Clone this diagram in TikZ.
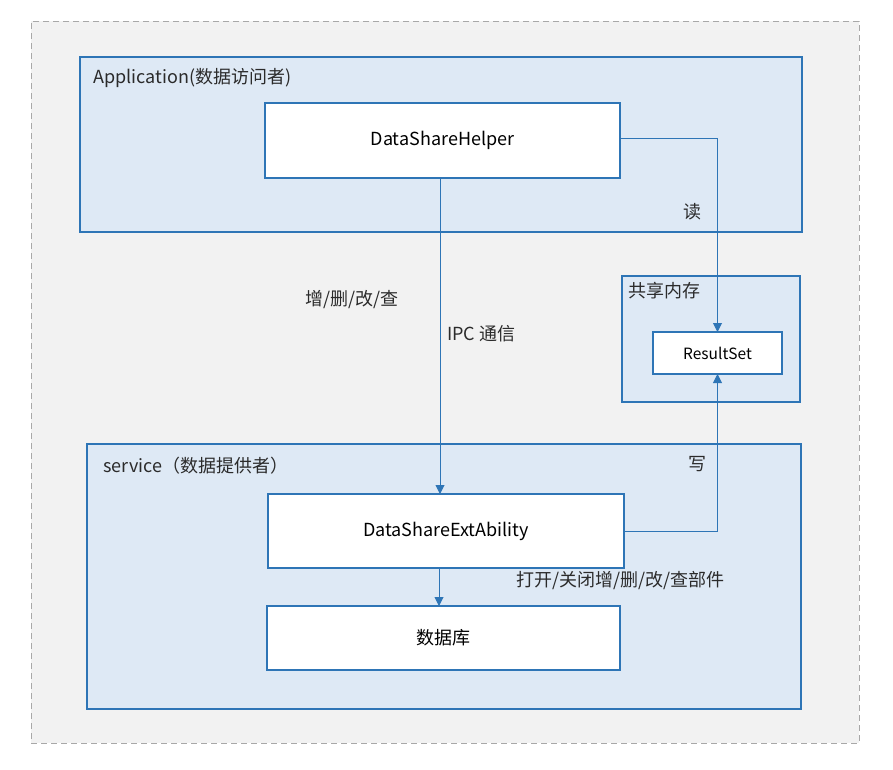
\documentclass[tikz,border=0pt]{standalone}
\usepackage{fontspec}
\setmainfont{Noto Sans CJK SC}
\usetikzlibrary{arrows.meta}
\definecolor{bordblue}{HTML}{2E75B6}
\definecolor{fillblue}{HTML}{DEE9F5}
\definecolor{outerfill}{HTML}{F2F2F2}
\definecolor{outerline}{HTML}{A8A8A8}
\definecolor{txt}{HTML}{2B2B2B}
\begin{document}
\begin{tikzpicture}[x=1pt,y=-1pt,
  font=\fontsize{18}{21}\selectfont,
  every node/.style={text=txt},
  group/.style={draw=bordblue, line width=1.6pt, fill=fillblue, inner sep=0pt, outer sep=0pt},
  block/.style={draw=bordblue, line width=1.6pt, fill=white, inner sep=0pt, outer sep=0pt, text=black},
  lbl/.style={inner sep=0pt},
  conn/.style={draw=bordblue, line width=0.9pt, -{Triangle[length=9pt,width=9pt]}}
]
\useasboundingbox (0,0) rectangle (893,769);
\node[draw=outerline, dash pattern=on 6pt off 4pt, line width=1pt, fill=outerfill,
  minimum width=828, minimum height=722, inner sep=0pt] (outer) at (445,382) {};

\node[group, minimum width=722, minimum height=175] (app) at (441,144.5) {};
\node[lbl, anchor=west] (applbl) at (93,78) {Application(数据访问者)};
\node[block, minimum width=355, minimum height=75] (helper) at (442.5,140.5) {DataShareHelper};

\node[group, minimum width=178, minimum height=126] (shm) at (711,339) {};
\node[lbl, anchor=west] (shmlbl) at (628,291) {共享内存};
\node[block, minimum width=129, minimum height=42, font=\fontsize{15.5}{18}\selectfont] (rs) at (717.5,353) {ResultSet};

\node[group, minimum width=714, minimum height=265] (svc) at (444,576.5) {};
\node[lbl, anchor=west] (svclbl) at (103,466) {service（数据提供者）};
\node[block, minimum width=356, minimum height=74] (ext) at (446,531) {DataShareExtAbility};
\node[block, minimum width=353, minimum height=64] (db) at (443.5,638) {数据库};

\coordinate (ipcx) at (440,300);
\coordinate (dbx) at (439,590);
\draw[conn] (helper.south -| ipcx) -- (ext.north -| ipcx);
\draw[conn] (ext.south -| dbx) -- (db.north -| dbx);
\draw[conn] ([yshift=2.5pt]helper.east) -| (rs.north);
\draw[conn] (ext.east) -| (rs.south);

\node[lbl] (crud) at (352,300) {增/删/改/查};
\node[lbl, anchor=west] (ipc) at (447,334) {IPC 通信};
\node[lbl] (read) at (692,212) {读};
\node[lbl] (write) at (697,464) {写};
\node[lbl, anchor=west] (open) at (516,581) {打开/关闭增/删/改/查部件};
\end{tikzpicture}
\end{document}
